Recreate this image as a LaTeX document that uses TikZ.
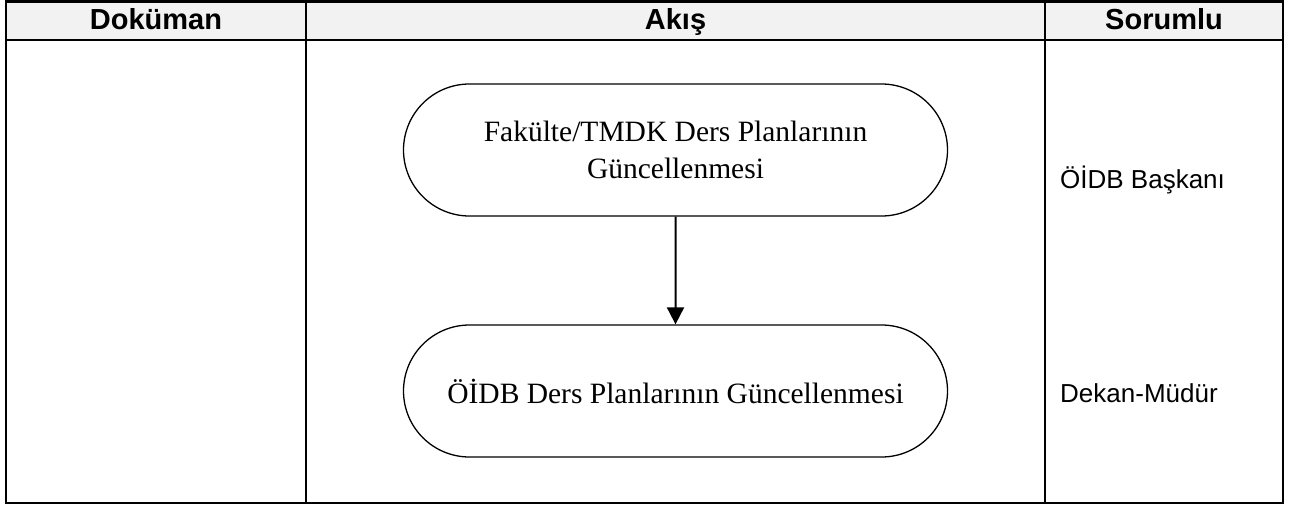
\documentclass[tikz,border=0pt]{standalone}
\usepackage{fontspec}
\setmainfont{Liberation Serif}
\setsansfont{Liberation Sans}
\usetikzlibrary{shapes.misc,arrows.meta}
\begin{document}
\begin{tikzpicture}[x=1pt,y=-1pt]
			\tikzstyle{cadre}=[line width=2.6pt]
			\tikzstyle{baslik}=[font=\sffamily\bfseries\fontsize{29}{35}\selectfont,anchor=base,inner sep=0pt]
			\tikzstyle{sorumlu}=[font=\sffamily\fontsize{26}{31}\selectfont,anchor=base west,inner sep=0pt]
			\tikzstyle{surec}=[draw,line width=1.3pt,rounded rectangle,minimum width=544pt,minimum height=132pt,align=center,font=\rmfamily\fontsize{29.5}{37}\selectfont,inner sep=0pt]
			\tikzstyle{fleche}=[-{Triangle[length=17pt,width=17pt]},line width=2pt]
			\def\Gauche{6}\def\ColA{306}\def\ColB{1045}\def\Droite{1283}
			\def\Haut{1.5}\def\Entete{40}\def\Bas{503}
			\useasboundingbox (0,0) rectangle (1293,506);
			%
			\fill[black!5] (\Gauche,\Haut) rectangle (\Droite,\Entete);
			\draw[cadre] (\Gauche,\Haut) rectangle (\Droite,\Bas);
			\draw[cadre] (\Gauche,\Entete)--(\Droite,\Entete);
			\draw[cadre] (\ColA,\Haut)--(\ColA,\Bas);
			\draw[cadre] (\ColB,\Haut)--(\ColB,\Bas);
			%
			\node[baslik] (Dokuman) at ({(\Gauche+\ColA)/2},29.5) {Doküman};
			\node[baslik] (Akis) at ({(\ColA+\ColB)/2},29.5) {Akış};
			\node[baslik] (Sorumlu) at ({(\ColB+\Droite)/2},29.5) {Sorumlu};
			%
			\node[surec] (Akis1) at (675.5,150) {Fakülte/TMDK Ders Planlarının\\Güncellenmesi};
			\node[surec] (Akis2) at (675.5,391) {ÖİDB Ders Planlarının Güncellenmesi};
			\draw[fleche] (Akis1)--(Akis2);
			%
			\node[sorumlu] (Sorumlu1) at (1060,188) {ÖİDB Başkanı};
			\node[sorumlu] (Sorumlu2) at (1060,402) {Dekan-Müdür};
		\end{tikzpicture}
\end{document}
